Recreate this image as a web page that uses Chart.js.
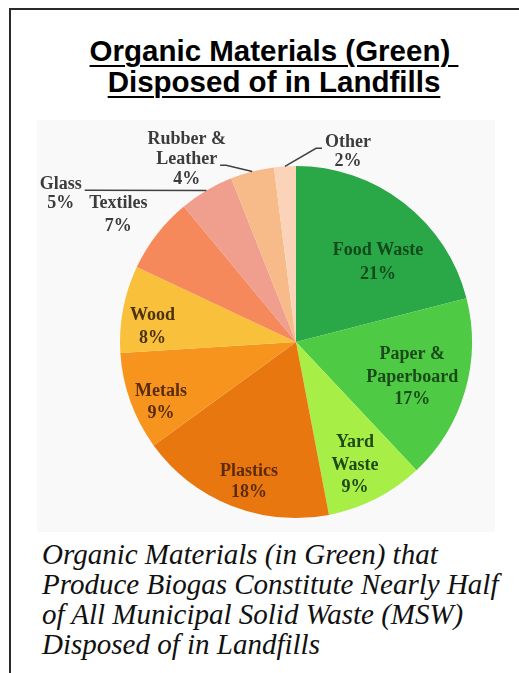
<!DOCTYPE html>
<html>
<head>
<meta charset="utf-8">
<script src="https://cdn.jsdelivr.net/npm/chart.js"></script>
<style>
  body { margin: 0; background: #fff; width: 519px; height: 673px; overflow: hidden; position: relative; }
  #frame { position: absolute; left: 9px; top: 8px; width: 600px; height: 700px;
           border-top: 2px solid #2a2a2a; border-left: 2px solid #2a2a2a; }
  #title { position: absolute; left: 0; top: 35px; width: 548px; text-align: center;
           font: bold 29.5px "Liberation Sans", Arial, sans-serif; line-height: 31px; color: #000;
           white-space: pre; text-decoration: underline; text-decoration-thickness: 2px; text-underline-offset: 4px; }
  #pie { position: absolute; left: 37px; top: 120px; background: #f9f9f9; }
  #caption { position: absolute; left: 42px; top: 539px; font-family: "Liberation Serif", "Times New Roman", serif;
             font-style: italic; font-size: 29px; line-height: 30px; color: #111; }
</style>
</head>
<body>
<div id="frame"></div>
<div id="title">Organic Materials (Green) 
Disposed of in Landfills</div>
<canvas id="pie" width="458" height="412"></canvas>
<div id="caption">Organic Materials (in Green) that<br>Produce Biogas Constitute Nearly Half<br>of All Municipal Solid Waste (MSW)<br>Disposed of in Landfills</div>

<script>
// data
const categories = ['Food Waste', 'Paper &\nPaperboard', 'Yard\nWaste', 'Plastics', 'Metals', 'Wood', 'Textiles', 'Glass', 'Rubber &\nLeather', 'Other'];
const percents = [21, 17, 9, 18, 9, 8, 7, 5, 4, 2];
const sliceColors = ['#2aa746', '#4fca44', '#a7ef47', '#e8770f', '#f7941e', '#f9c03c', '#f5895c', '#f09e8e', '#f7bb8a', '#fbd3b9'];
const textColors = ['#124a1c', '#1a4a1a', '#1f4a16', '#5e2a0c', '#5a2c0e', '#4d3210', '#3c3c3c', '#3c3c3c', '#3c3c3c', '#3c3c3c'];

// label placement: angle nudge (deg) from slice middle, distance as fraction of radius
const labelShift = [8, 0.6, 1.4, -3.1, -4.2, -4.7, -2.3, -27.2, -16.5, 18.9];
const labelDist = [0.65, 0.69, 0.775, 0.84, 0.84, 0.82, 1.24, 1.58, 1.21, 1.12];
const lineGap = [24, 22.5, 22.5, 21, 22, 23, 23, 19, 20, 19];
// leader lines: which text line they attach to, and on which side
const leaderLine = {7: 0, 8: 1, 9: 0};
const leaderSide = {7: 'right', 8: 'right', 9: 'left'};

const sliceLabels = {
  id: 'sliceLabels',
  afterDatasetsDraw(chart) {
    const ctx = chart.ctx;
    const meta = chart.getDatasetMeta(0);
    ctx.save();
    ctx.font = 'bold 18px "Liberation Serif", "Times New Roman", serif';
    ctx.textAlign = 'center';
    ctx.textBaseline = 'middle';
    meta.data.forEach((arc, i) => {
      const p = arc.getProps(['x', 'y', 'startAngle', 'endAngle', 'outerRadius'], true);
      const mid = (p.startAngle + p.endAngle) / 2;
      const a = mid + labelShift[i] * Math.PI / 180;
      const cx = p.x + Math.cos(a) * p.outerRadius * labelDist[i];
      const cy = p.y + Math.sin(a) * p.outerRadius * labelDist[i];
      const lines = categories[i].split('\n').concat(percents[i] + '%');
      const top = cy - (lines.length - 1) * lineGap[i] / 2;
      ctx.fillStyle = textColors[i];
      lines.forEach((t, k) => ctx.fillText(t, cx, top + k * lineGap[i]));

      if (leaderLine[i] !== undefined) {
        const k = leaderLine[i];
        const w = ctx.measureText(lines[k]).width;
        const ly = top + k * lineGap[i] + 6;
        const ex = p.x + Math.cos(mid) * p.outerRadius;
        const ey = p.y + Math.sin(mid) * p.outerRadius;
        let ax, bx;
        if (leaderSide[i] === 'right') { ax = cx + w / 2 + 3; bx = ax + 6; }
        else { ax = cx - w / 2 - 3; bx = ax - 6; }
        ctx.strokeStyle = '#404040';
        ctx.lineWidth = 1.5;
        ctx.beginPath();
        ctx.moveTo(ax, ly);
        ctx.lineTo(bx, ly);
        ctx.lineTo(ex, ey);
        ctx.stroke();
      }
    });
    ctx.restore();
  }
};

new Chart(document.getElementById('pie'), {
  type: 'pie',
  data: {
    labels: categories.map(c => c.replace('\n', ' ')),
    datasets: [{
      data: percents,
      backgroundColor: sliceColors,
      borderWidth: 0
    }]
  },
  options: {
    responsive: false,
    animation: false,
    devicePixelRatio: 1,
    layout: { padding: { left: 83, right: 23, top: 46, bottom: 14 } },
    plugins: { legend: { display: false }, tooltip: { enabled: false } }
  },
  plugins: [sliceLabels]
});
</script>
</body>
</html>
